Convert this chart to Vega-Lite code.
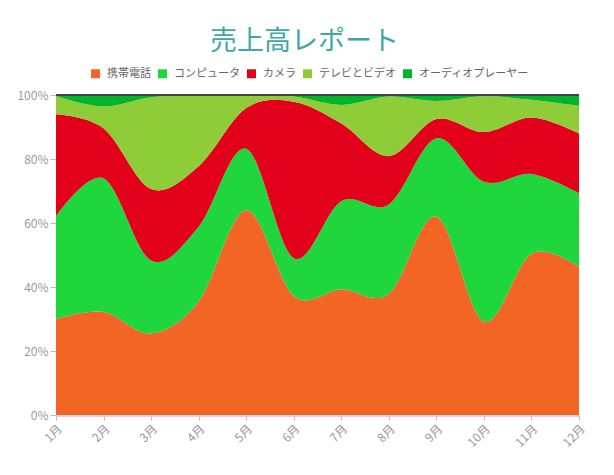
{
  "$schema": "https://vega.github.io/schema/vega-lite/v6.json",
  "width": 523,
  "height": 320,
  "autosize": {"type": "none"},
  "padding": {"left": 56, "top": 95, "right": 35, "bottom": 60},
  "background": "white",
  "title": {
    "text": "売上高レポート",
    "font": "Noto Sans CJK JP",
    "fontSize": 27,
    "fontWeight": "normal",
    "color": "#3fa7a6",
    "anchor": "middle",
    "dx": -13,
    "offset": 12
  },
  "config": {
    "view": {"stroke": null},
    "font": "Noto Sans CJK JP"
  },
  "data": {
    "values": [
      {"month": "1月", "cat": "携帯電話", "o": 1, "v": 30},
      {"month": "1月", "cat": "コンピュータ", "o": 2, "v": 32.2},
      {"month": "1月", "cat": "カメラ", "o": 3, "v": 31.8},
      {"month": "1月", "cat": "テレビとビデオ", "o": 4, "v": 5.7},
      {"month": "1月", "cat": "オーディオプレーヤー", "o": 5, "v": 0.3},
      {"month": "2月", "cat": "携帯電話", "o": 1, "v": 32.2},
      {"month": "2月", "cat": "コンピュータ", "o": 2, "v": 41.8},
      {"month": "2月", "cat": "カメラ", "o": 3, "v": 15.6},
      {"month": "2月", "cat": "テレビとビデオ", "o": 4, "v": 6.8},
      {"month": "2月", "cat": "オーディオプレーヤー", "o": 5, "v": 3.6},
      {"month": "3月", "cat": "携帯電話", "o": 1, "v": 25.5},
      {"month": "3月", "cat": "コンピュータ", "o": 2, "v": 22.8},
      {"month": "3月", "cat": "カメラ", "o": 3, "v": 22.3},
      {"month": "3月", "cat": "テレビとビデオ", "o": 4, "v": 28.7},
      {"month": "3月", "cat": "オーディオプレーヤー", "o": 5, "v": 0.7},
      {"month": "4月", "cat": "携帯電話", "o": 1, "v": 35.5},
      {"month": "4月", "cat": "コンピュータ", "o": 2, "v": 23.3},
      {"month": "4月", "cat": "カメラ", "o": 3, "v": 18.9},
      {"month": "4月", "cat": "テレビとビデオ", "o": 4, "v": 22},
      {"month": "4月", "cat": "オーディオプレーヤー", "o": 5, "v": 0.3},
      {"month": "5月", "cat": "携帯電話", "o": 1, "v": 64},
      {"month": "5月", "cat": "コンピュータ", "o": 2, "v": 19.2},
      {"month": "5月", "cat": "カメラ", "o": 3, "v": 12.7},
      {"month": "5月", "cat": "テレビとビデオ", "o": 4, "v": 3.9},
      {"month": "5月", "cat": "オーディオプレーヤー", "o": 5, "v": 0.2},
      {"month": "6月", "cat": "携帯電話", "o": 1, "v": 37.2},
      {"month": "6月", "cat": "コンピュータ", "o": 2, "v": 11.8},
      {"month": "6月", "cat": "カメラ", "o": 3, "v": 48.9},
      {"month": "6月", "cat": "テレビとビデオ", "o": 4, "v": 1.6},
      {"month": "6月", "cat": "オーディオプレーヤー", "o": 5, "v": 0.5},
      {"month": "7月", "cat": "携帯電話", "o": 1, "v": 39.3},
      {"month": "7月", "cat": "コンピュータ", "o": 2, "v": 27.5},
      {"month": "7月", "cat": "カメラ", "o": 3, "v": 24.3},
      {"month": "7月", "cat": "テレビとビデオ", "o": 4, "v": 5.8},
      {"month": "7月", "cat": "オーディオプレーヤー", "o": 5, "v": 3.1},
      {"month": "8月", "cat": "携帯電話", "o": 1, "v": 37.9},
      {"month": "8月", "cat": "コンピュータ", "o": 2, "v": 27.9},
      {"month": "8月", "cat": "カメラ", "o": 3, "v": 15.1},
      {"month": "8月", "cat": "テレビとビデオ", "o": 4, "v": 18.6},
      {"month": "8月", "cat": "オーディオプレーヤー", "o": 5, "v": 0.5},
      {"month": "9月", "cat": "携帯電話", "o": 1, "v": 62},
      {"month": "9月", "cat": "コンピュータ", "o": 2, "v": 24.5},
      {"month": "9月", "cat": "カメラ", "o": 3, "v": 6},
      {"month": "9月", "cat": "テレビとビデオ", "o": 4, "v": 5.6},
      {"month": "9月", "cat": "オーディオプレーヤー", "o": 5, "v": 1.9},
      {"month": "10月", "cat": "携帯電話", "o": 1, "v": 29.2},
      {"month": "10月", "cat": "コンピュータ", "o": 2, "v": 43.7},
      {"month": "10月", "cat": "カメラ", "o": 3, "v": 15.5},
      {"month": "10月", "cat": "テレビとビデオ", "o": 4, "v": 11.2},
      {"month": "10月", "cat": "オーディオプレーヤー", "o": 5, "v": 0.4},
      {"month": "11月", "cat": "携帯電話", "o": 1, "v": 50.4},
      {"month": "11月", "cat": "コンピュータ", "o": 2, "v": 24.9},
      {"month": "11月", "cat": "カメラ", "o": 3, "v": 17.7},
      {"month": "11月", "cat": "テレビとビデオ", "o": 4, "v": 5.5},
      {"month": "11月", "cat": "オーディオプレーヤー", "o": 5, "v": 1.5},
      {"month": "12月", "cat": "携帯電話", "o": 1, "v": 46.3},
      {"month": "12月", "cat": "コンピュータ", "o": 2, "v": 23},
      {"month": "12月", "cat": "カメラ", "o": 3, "v": 18.7},
      {"month": "12月", "cat": "テレビとビデオ", "o": 4, "v": 8.6},
      {"month": "12月", "cat": "オーディオプレーヤー", "o": 5, "v": 3.4}
    ]
  },
  "layer": [
    {
      "mark": {"type": "area", "interpolate": "cardinal"},
      "encoding": {
        "x": {
          "field": "month",
          "type": "ordinal",
          "sort": null,
          "scale": {"type": "point", "padding": 0},
          "axis": {
            "title": null,
            "labelAngle": -45,
            "labelColor": "#999999",
            "labelFontSize": 12,
            "labelPadding": 3,
            "tickColor": "#bbbbbb",
            "tickSize": 5,
            "domainColor": "#d4d4d4",
            "domainWidth": 3,
            "grid": false
          }
        },
        "y": {
          "field": "v",
          "type": "quantitative",
          "stack": "normalize",
          "axis": {
            "title": null,
            "format": ".0%",
            "values": [0, 0.1, 0.2, 0.3, 0.4, 0.5, 0.6, 0.7, 0.8, 0.9, 1],
            "labelColor": "#999999",
            "labelFontSize": 12,
            "labelPadding": 2,
            "tickColor": "#bbbbbb",
            "tickSize": 6,
            "domain": false,
            "grid": true,
            "gridColor": "#e6e6e6"
          }
        },
        "color": {
          "field": "cat",
          "type": "nominal",
          "scale": {
            "domain": ["携帯電話", "コンピュータ", "カメラ", "テレビとビデオ", "オーディオプレーヤー"],
            "range": ["#f26524", "#1fd63d", "#e3001a", "#8ecd37", "#00b42c"]
          },
          "legend": {
            "title": null,
            "orient": "none",
            "direction": "horizontal",
            "legendX": 34,
            "legendY": -27,
            "padding": 0,
            "symbolType": "square",
            "symbolSize": 81,
            "symbolStrokeWidth": 0,
            "symbolOpacity": 1,
            "labelFontSize": 11,
            "labelColor": "#666666",
            "labelOffset": 6,
            "columnPadding": 6
          }
        },
        "order": {"field": "o", "type": "quantitative"}
      }
    },
    {
      "mark": {"type": "rule", "color": "#444444", "strokeWidth": 1},
      "encoding": {"y": {"datum": 1, "type": "quantitative"}}
    }
  ]
}
